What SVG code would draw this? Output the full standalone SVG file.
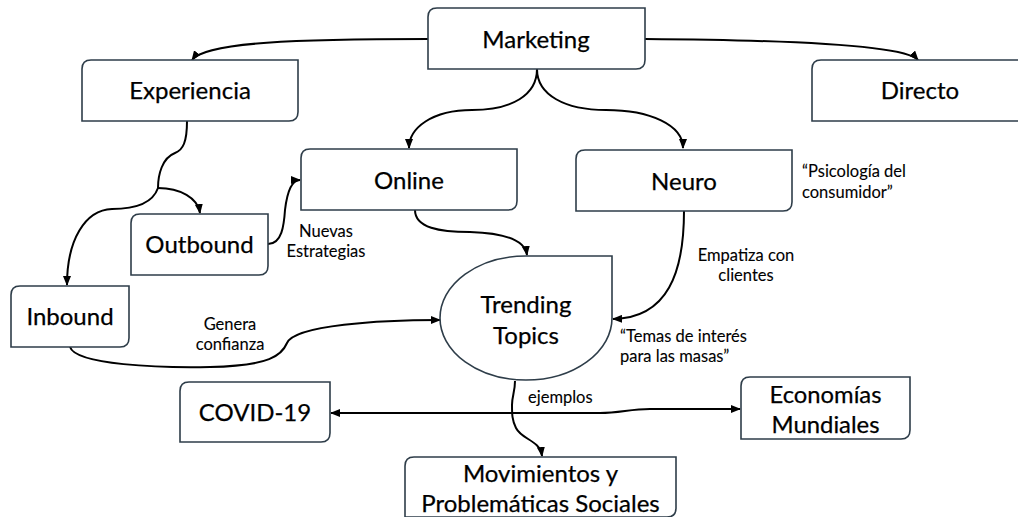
<svg xmlns="http://www.w3.org/2000/svg" width="1018" height="517" viewBox="0 0 1018 517">
<defs>
<marker id="ah" markerWidth="10" markerHeight="8" refX="9" refY="4" orient="auto" markerUnits="userSpaceOnUse">
<path d="M0,0 L10,4 L0,8 Z" fill="#000"/>
</marker>
<marker id="ahs" markerWidth="10" markerHeight="8" refX="1" refY="4" orient="auto" markerUnits="userSpaceOnUse">
<path d="M10,0 L0,4 L10,8 Z" fill="#000"/>
</marker>
<style>
.box{fill:#fff;stroke:#2e3d49;stroke-width:1.6}
.lbl{font-family:Lato,"Liberation Sans",sans-serif;font-size:24px;fill:#000;stroke:#000;stroke-width:0.25;text-anchor:middle}
.sm{font-family:Lato,"Liberation Sans",sans-serif;font-size:16.5px;fill:#000;stroke:#000;stroke-width:0.1}
.c{text-anchor:middle}
.edge{fill:none;stroke:#000;stroke-width:2;marker-end:url(#ah)}
</style>
</defs>
<rect width="1018" height="517" fill="#fff"/>
<g id="connectors">
<path class="edge" d="M428,39 C300,39 205,42 192,60"/>
<path class="edge" d="M645,39 C790,40 905,45 918,60"/>
<path class="edge" d="M537,69 C537,95 512,110 472,110 C432,110 409,128 409,148"/>
<path class="edge" d="M537,69 C537,95 565,110 606,110 C650,110 683,125 683,148"/>
<path fill="none" stroke="#000" stroke-width="2" d="M187,121 C187,142 183,150 175,153 C162,158 158,175 158,188"/>
<path class="edge" d="M158,188 C180,188 198,198 200,213"/>
<path class="edge" d="M158,188 C152,205 132,209 112,209 C85,210 67,240 67,285"/>
<path class="edge" d="M268,244 C282,244 284,225 285,210 C287,193 291,180 300,180"/>
<path class="edge" d="M415,210 C415,228 440,232 470,232 C505,233 525,240 527,255"/>
<path class="edge" d="M684,211 C684,272 668,318 613,319"/>
<path class="edge" d="M70,347 C76,365 160,368 210,367 C270,366 282,355 287,343 C295,325 380,320 440,320"/>
<path class="edge" d="M515,381 C515,392 512,396 512,405 C512,414 512,420 516,428 C522,440 540,440 542,456"/>
<path class="edge" style="marker-start:url(#ahs)" d="M331,413 L600,413 C620,413 630,409 650,409 L740,409"/>
</g>
<g id="marketing"><path class="box" d="M437,8 H645 V60 Q645,69 636,69 H428 V17 Q428,8 437,8 Z"/><text class="lbl" x="536" y="48">Marketing</text></g>
<g id="experiencia"><path class="box" d="M91,60 H298 V112 Q298,121 289,121 H82 V69 Q82,60 91,60 Z"/><text class="lbl" x="190" y="99">Experiencia</text></g>
<g id="directo"><path class="box" d="M821,60 H1030 V112 Q1030,121 1021,121 H812 V69 Q812,60 821,60 Z"/><text class="lbl" x="920" y="99">Directo</text></g>
<g id="online"><path class="box" d="M310,149 H517 V201 Q517,210 508,210 H301 V158 Q301,149 310,149 Z"/><text class="lbl" x="409" y="189">Online</text></g>
<g id="neuro"><path class="box" d="M585,150 H792 V202 Q792,211 783,211 H576 V159 Q576,150 585,150 Z"/><text class="lbl" x="684" y="190">Neuro</text></g>
<g id="outbound"><path class="box" d="M140,214 H268 V266 Q268,275 259,275 H131 V223 Q131,214 140,214 Z"/><text class="lbl" x="199.5" y="253">Outbound</text></g>
<g id="inbound"><path class="box" d="M20,286 H129 V338 Q129,347 120,347 H11 V295 Q11,286 20,286 Z"/><text class="lbl" x="70" y="325">Inbound</text></g>
<g id="trending"><path class="box" d="M526,256 H612 V318 A86 62 0 1 1 526 256 Z"/><text class="lbl" x="526" y="313">Trending</text><text class="lbl" x="526" y="344">Topics</text></g>
<g id="covid"><path class="box" d="M189,382 H330 V433 Q330,442 321,442 H180 V391 Q180,382 189,382 Z"/><text class="lbl" x="255" y="421">COVID-19</text></g>
<g id="economias"><path class="box" d="M750,377 H910 V430 Q910,439 901,439 H741 V386 Q741,377 750,377 Z"/><text class="lbl" x="825.5" y="403" textLength="112" lengthAdjust="spacingAndGlyphs">Economías</text><text class="lbl" x="825.5" y="433" textLength="108" lengthAdjust="spacingAndGlyphs">Mundiales</text></g>
<g id="movimientos"><path class="box" d="M414,457 H676 V508 Q676,517 667,517 H405 V466 Q405,457 414,457 Z"/><text class="lbl" x="540.5" y="482">Movimientos y</text><text class="lbl" x="540.5" y="512">Problemáticas Sociales</text></g>
<g id="labels">
<text class="sm c" x="326" y="237">Nuevas</text>
<text class="sm c" x="326" y="257">Estrategias</text>
<text class="sm" x="802" y="177">“Psicología del</text>
<text class="sm" x="802" y="198">consumidor”</text>
<text class="sm c" x="746" y="261">Empatiza con</text>
<text class="sm c" x="746" y="281">clientes</text>
<text class="sm" x="620" y="342">“Temas de interés</text>
<text class="sm" x="620" y="362">para las masas”</text>
<text class="sm c" x="230" y="330">Genera</text>
<text class="sm c" x="230" y="350">confianza</text>
<text class="sm" x="528" y="403">ejemplos</text>
</g>
</svg>
